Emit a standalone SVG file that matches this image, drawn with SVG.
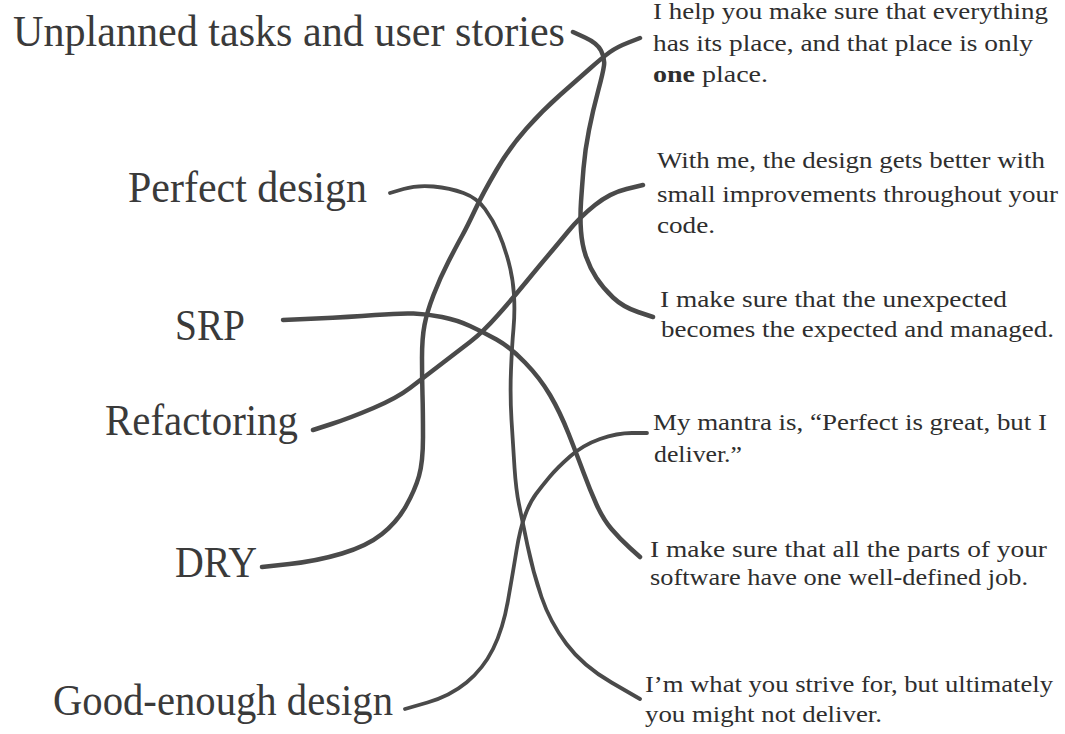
<svg xmlns="http://www.w3.org/2000/svg" width="1065" height="734" viewBox="0 0 1065 734">
<style>
.lbl{font-family:"Liberation Serif","DejaVu Serif",serif;font-size:45px;fill:#3a3a3a}
.desc{font-family:"Liberation Serif","DejaVu Serif",serif;font-size:24px;fill:#2e2e2e}
.wire{fill:none;stroke:#4a4a4a;stroke-width:4.5;stroke-linecap:round;stroke-linejoin:round}
.thin{stroke-width:3.8}
</style>
<rect width="1065" height="734" fill="#ffffff"/>
<g id="connectors">
<path class="wire" d="M573,32 L585,37.5 Q597,43 601,50.5 Q605,58 604,65.5 Q603,73 598,91.5 Q593,110 589,130 Q585,150 583.5,168.5 Q582,187 581,202 Q580,217 581,231 Q582,245 586,256.5 Q590,268 596.5,278 Q603,288 613,297.5 Q623,307 638,312 L653,317"/>
<path class="wire" d="M640,38 L628.5,42.5 Q617,47 610,52 Q603,57 590,68.5 Q577,80 560,95 Q543,110 526.5,128.5 Q510,147 496.5,170 Q483,193 475,210 Q467,227 462,236 Q457,245 448.5,261.5 Q440,278 433.5,295 Q427,312 424.5,325 Q422,338 422,358 Q422,378 422.5,395 Q423,412 423,437 Q423,462 419,476 Q415,490 406,506 Q397,522 382,534 Q367,546 342,553.5 Q317,561 289.5,564 L262,567"/>
<path class="wire thin" d="M390,193 L403.5,189 Q417,185 433.5,186.5 Q450,188 463.5,193 Q477,198 485,209 Q493,220 498.5,232.5 Q504,245 508.5,261.5 Q513,278 514,295 Q515,312 513.5,328.5 Q512,345 511,370 Q510,395 511.5,420 Q513,445 514.5,467.5 Q516,490 519,504.5 Q522,519 527.5,545.5 Q533,572 541.5,597 Q550,622 566.5,644 Q583,666 611.5,682.5 L640,699"/>
<path class="wire" d="M283,320 L316.5,318.5 Q350,317 375,315 Q400,313 413.5,313.5 Q427,314 442,317 Q457,320 470,326 Q483,332 496.5,339.5 Q510,347 525,362.5 Q540,378 550,395 Q560,412 568.5,433.5 Q577,455 583.5,472.5 Q590,490 596.5,504.5 Q603,519 611.5,529 Q620,539 630,548 L640,557"/>
<path class="wire" d="M313,430 L331.5,424 Q350,418 373.5,408 Q397,398 410,388 Q423,378 440,365 Q457,352 470,342 Q483,332 498,315 Q513,298 526.5,281.5 Q540,265 548.5,255 Q557,245 568.5,231 Q580,217 595,205 Q610,193 626.5,189 L643,185"/>
<path class="wire thin" d="M405,709 L427.5,702.5 Q450,696 466.5,682.5 Q483,669 493,649 Q503,629 508,600.5 Q513,572 516.5,550.5 Q520,529 525,515.5 Q530,502 536,494 Q542,486 549.5,477 Q557,468 570,456.5 Q583,445 600,439 Q617,433 632,433 L647,433"/>
</g>
<g id="label-unplanned"><text class="lbl" x="13" y="46" textLength="552" lengthAdjust="spacingAndGlyphs">Unplanned tasks and user stories</text></g>
<g id="label-perfect"><text class="lbl" x="128" y="202" textLength="239" lengthAdjust="spacingAndGlyphs">Perfect design</text></g>
<g id="label-srp"><text class="lbl" x="175" y="340" textLength="70" lengthAdjust="spacingAndGlyphs">SRP</text></g>
<g id="label-refactoring"><text class="lbl" x="105" y="435" textLength="193" lengthAdjust="spacingAndGlyphs">Refactoring</text></g>
<g id="label-dry"><text class="lbl" x="175" y="577" textLength="82" lengthAdjust="spacingAndGlyphs">DRY</text></g>
<g id="label-good"><text class="lbl" x="53" y="715" textLength="340" lengthAdjust="spacingAndGlyphs">Good-enough design</text></g>
<g id="desc-one-place">
<text class="desc" x="653" y="19" textLength="395" lengthAdjust="spacingAndGlyphs">I help you make sure that everything</text>
<text class="desc" x="653" y="51" textLength="380" lengthAdjust="spacingAndGlyphs">has its place, and that place is only</text>
<text class="desc" x="653" y="82" textLength="115" lengthAdjust="spacingAndGlyphs"><tspan font-weight="bold">one</tspan> place.</text>
</g>
<g id="desc-improvements">
<text class="desc" x="657" y="168" textLength="388" lengthAdjust="spacingAndGlyphs">With me, the design gets better with</text>
<text class="desc" x="657" y="202" textLength="401" lengthAdjust="spacingAndGlyphs">small improvements throughout your</text>
<text class="desc" x="657" y="233" textLength="58" lengthAdjust="spacingAndGlyphs">code.</text>
</g>
<g id="desc-unexpected">
<text class="desc" x="660" y="307" textLength="347" lengthAdjust="spacingAndGlyphs">I make sure that the unexpected</text>
<text class="desc" x="661" y="337" textLength="393" lengthAdjust="spacingAndGlyphs">becomes the expected and managed.</text>
</g>
<g id="desc-mantra">
<text class="desc" x="653" y="430" textLength="394" lengthAdjust="spacingAndGlyphs">My mantra is, “Perfect is great, but I</text>
<text class="desc" x="654" y="462" textLength="88" lengthAdjust="spacingAndGlyphs">deliver.”</text>
</g>
<g id="desc-one-job">
<text class="desc" x="650" y="557" textLength="397" lengthAdjust="spacingAndGlyphs">I make sure that all the parts of your</text>
<text class="desc" x="650" y="585" textLength="378" lengthAdjust="spacingAndGlyphs">software have one well-defined job.</text>
</g>
<g id="desc-strive">
<text class="desc" x="645" y="692" textLength="408" lengthAdjust="spacingAndGlyphs">I’m what you strive for, but ultimately</text>
<text class="desc" x="645" y="722" textLength="237" lengthAdjust="spacingAndGlyphs">you might not deliver.</text>
</g>
</svg>
